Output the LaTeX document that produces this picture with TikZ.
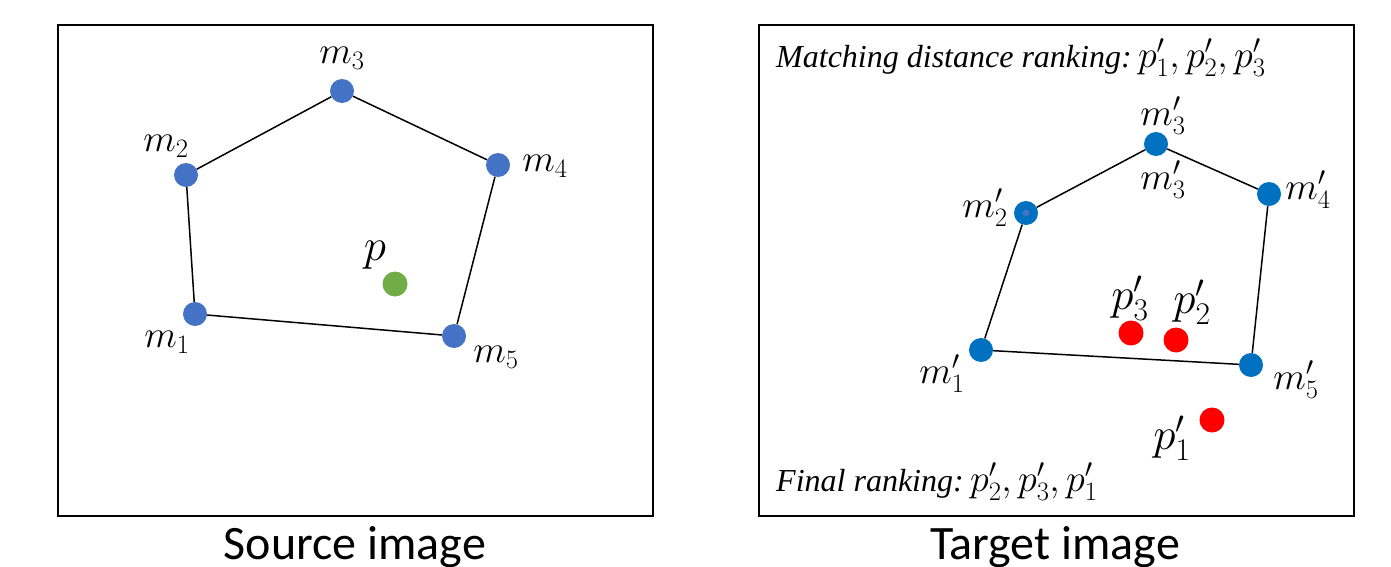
\documentclass[tikz,border=0pt]{standalone}
\usepackage{fix-cm}
\usepackage{fontspec}
\newfontfamily\capfont{Carlito}
\newfontfamily\rankfont{Liberation Serif}
\definecolor{lblue}{HTML}{4472C4}
\definecolor{rblue}{HTML}{0070C0}
\definecolor{gdot}{HTML}{70AD47}
\definecolor{rdot}{HTML}{FF0000}
\newcommand{\rankmath}[1]{{\fontsize{38}{42}\selectfont$#1$}}
\begin{document}
\begin{tikzpicture}[x=1pt,y=-1pt,
  frame/.style={draw=black,line width=2pt},
  edge/.style={draw=black,line width=1.5pt},
  ldot/.style={circle,fill=lblue,minimum size=24pt,inner sep=0pt},
  rbdot/.style={circle,fill=rblue,minimum size=24pt,inner sep=0pt},
  gpt/.style={circle,fill=gdot,minimum size=25pt,inner sep=0pt},
  rpt/.style={circle,fill=rdot,minimum size=25pt,inner sep=0pt},
  mlab/.style={inner sep=0pt,font=\fontsize{38}{44}\selectfont},
  plab/.style={inner sep=0pt,font=\fontsize{45}{50}\selectfont},
  rank/.style={inner sep=0pt,anchor=west,font=\rankfont\itshape\fontsize{32}{38}\selectfont},
  captext/.style={inner sep=0pt,font=\capfont\fontsize{48}{56}\selectfont}]
\useasboundingbox (0,0) rectangle (1391,567);
% frames
\draw[frame] (58,25) rectangle (653,516);
\draw[frame] (759,25) rectangle (1354,516);
% left
\node[ldot] (m1) at (195,314) {};
\node[ldot] (m2) at (186,175) {};
\node[ldot] (m3) at (342,91) {};
\node[ldot] (m4) at (498,165) {};
\node[ldot] (m5) at (454,336) {};
\node[gpt] (p) at (395,284) {};
\draw[edge] (m1) -- (m2) -- (m3) -- (m4) -- (m5) -- (m1);
\node[mlab] (lm1) at (167,342) {$m_1$};
\node[mlab] (lm2) at (166,146) {$m_2$};
\node[mlab] (lm3) at (342,58) {$m_3$};
\node[mlab] (lm4) at (545,166) {$m_4$};
\node[mlab] (lm5) at (496,357) {$m_5$};
\node[plab] (lp) at (375,255) {$p$};
% right
\node[rbdot] (n1) at (981,350) {};
\node[rbdot] (n2) at (1026,213) {};
\node[circle,fill=lblue,minimum size=7pt,inner sep=0pt] (n2c) at (1026,213) {};
\node[rbdot] (n3) at (1156,144) {};
\node[rbdot] (n4) at (1269,194) {};
\node[rbdot] (n5) at (1251,365) {};
\draw[edge] (n1) -- (n2) -- (n3) -- (n4) -- (n5) -- (n1);
\node[rpt] (q3) at (1131,333) {};
\node[rpt] (q2) at (1176,340) {};
\node[rpt] (q1) at (1212,420) {};
\node[mlab] (ln1) at (942,374) {$m'_1$};
\node[mlab] (ln2) at (985,208) {$m'_2$};
\node[mlab] (ln3a) at (1163,116) {$m'_3$};
\node[mlab] (ln3b) at (1163,180) {$m'_3$};
\node[mlab] (ln4) at (1308,190) {$m'_4$};
\node[mlab] (ln5) at (1296,380) {$m'_5$};
\node[plab] (lq3) at (1130,298) {$p'_3$};
\node[plab] (lq2) at (1192,302) {$p'_2$};
\node[plab] (lq1) at (1172,438) {$p'_1$};
\node[rank] (t1) at (776,58) {Matching distance ranking:\rankmath{\,p'_1, p'_2, p'_3}};
\node[rank] (t2) at (776,482) {Final ranking:\rankmath{\,p'_2, p'_3, p'_1}};
% captions
\node[captext] (c1) at (355,547) {Source image};
\node[captext] (c2) at (1055,547) {Target image};
\end{tikzpicture}
\end{document}
